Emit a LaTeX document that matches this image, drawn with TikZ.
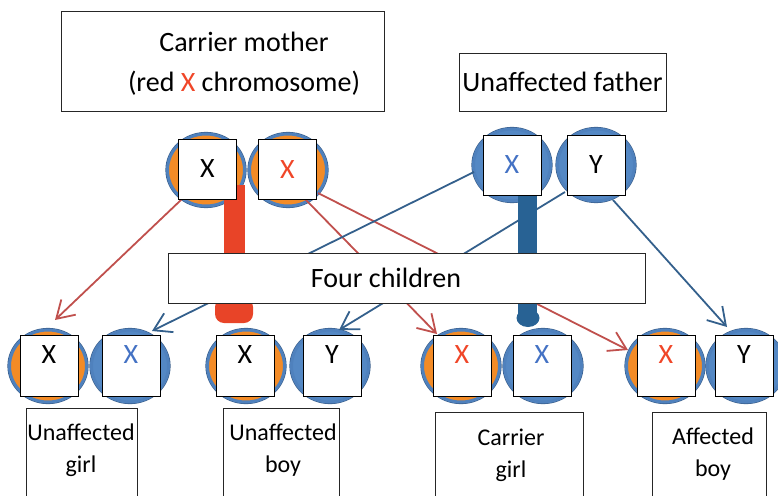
\documentclass[tikz,border=0pt]{standalone}
\usepackage{fontspec}
\setmainfont{Carlito}
\usetikzlibrary{arrows.meta,shapes.geometric}
\definecolor{corange}{RGB}{243,139,38}
\definecolor{ringblue}{RGB}{79,129,189}
\definecolor{rimblue}{RGB}{56,93,138}
\definecolor{fillblue}{RGB}{84,136,196}
\definecolor{lred}{RGB}{192,80,77}
\definecolor{lblue}{RGB}{52,96,140}
\definecolor{barred}{RGB}{232,68,40}
\definecolor{barblue}{RGB}{40,98,148}
\definecolor{xred}{RGB}{240,70,40}
\definecolor{xblue}{RGB}{68,114,196}
\begin{document}
\begin{tikzpicture}[x=1pt,y=-1pt,
  chromo/.style={ellipse, minimum width=77pt, minimum height=72pt, inner sep=0pt,
    draw=ringblue, line width=3pt, preaction={draw=rimblue, line width=4.2pt}},
  orangec/.style={chromo, fill=corange},
  bluec/.style={chromo, fill=fillblue},
  sqtop/.style={rectangle, draw=black, fill=white, line width=0.9pt,
    minimum width=58pt, minimum height=60pt, inner sep=0pt,
    font=\fontsize{28}{30}\selectfont},
  sqbot/.style={sqtop, minimum height=61pt, text height=18pt, text depth=24pt},
  redline/.style={draw=lred, line width=1.8pt, -{Straight Barb[length=17pt,width=21pt]}},
  blueline/.style={draw=lblue, line width=1.8pt, -{Straight Barb[length=17pt,width=21pt]}},
  tbox/.style={draw=black!85, line width=0.9pt, fill=white, inner sep=0pt},
  bigtxt/.style={font=\fontsize{28}{40}\selectfont, align=center, inner sep=0pt},
  labtxt/.style={font=\fontsize{24}{32}\selectfont, align=center, inner sep=0pt}]
\useasboundingbox (0,0) rectangle (778,495);
\clip (0,0) rectangle (778,495);

% parent circles
\node[orangec] (mA) at (206,170) {};
\node[orangec] (mB) at (288,170) {};
\node[bluec] (fA) at (512,165) {};
\node[bluec] (fB) at (596,165) {};

% children circles
\node[orangec] (c1a) at (48,366) {};
\node[bluec] (c1b) at (130,366) {};
\node[orangec] (c2a) at (246,366) {};
\node[bluec] (c2b) at (330,366) {};
\node[orangec] (c3a) at (461,366) {};
\node[bluec] (c3b) at (543,366) {};
\node[orangec] (c4a) at (665,366) {};
\node[bluec] (c4b) at (746,366) {};

% arrow ends
\coordinate (s1) at (182,199);
\coordinate (t1) at (55,320);
\coordinate (s2) at (305,199);
\coordinate (t2) at (437,334);
\coordinate (s3) at (318,193);
\coordinate (t3) at (628,350);
\coordinate (s4) at (474,172);
\coordinate (t4) at (152,331);
\coordinate (s5) at (565,192);
\coordinate (t5) at (339,330);
\coordinate (s6) at (613,200);
\coordinate (t6) at (727,327);

\draw[redline] (s1) -- (t1);
\draw[redline] (s2) -- (t2);
\draw[redline] (s3) -- (t3);
\draw[blueline] (s4) -- (t4);
\draw[blueline] (s5) -- (t5);
\draw[blueline] (s6) -- (t6);

% thick bars
\fill[barred] (224,185) rectangle (245,306);
\fill[barred, rounded corners=9pt] (215,298) rectangle (253,323);
\fill[barblue] (518,195) rectangle (537,318);
\fill[barblue] (528,318) ellipse (11.5pt and 9pt);

% four children box
\node[tbox, minimum width=477pt, minimum height=50pt] (cbox) at (406.5,278) {};
\node[bigtxt] (ctext) at (386,278) {Four children};

% squares
\node[sqtop] (qmA) at (207.5,169) {X};
\node[sqtop] (qmB) at (287.5,169.5) {\textcolor{xred}{X}};
\node[sqtop] (qfA) at (512,165) {\textcolor{xblue}{X}};
\node[sqtop] (qfB) at (596,165) {Y};

\node[sqbot] (q1a) at (49,366) {X};
\node[sqbot] (q1b) at (131,366) {\textcolor{xblue}{X}};
\node[sqbot] (q2a) at (245,366) {X};
\node[sqbot] (q2b) at (332,366) {Y};
\node[sqbot] (q3a) at (462,366) {\textcolor{xred}{X}};
\node[sqbot] (q3b) at (542,366) {\textcolor{xblue}{X}};
\node[sqbot] (q4a) at (666,366) {\textcolor{xred}{X}};
\node[sqbot] (q4b) at (744,366) {Y};

% parent boxes
\node[tbox, minimum width=323pt, minimum height=100pt] (mbox) at (222.5,61) {};
\node[bigtxt] (mtext) at (244,64) {Carrier mother\\(red \textcolor{xred}{X} chromosome)};
\node[tbox, minimum width=207pt, minimum height=58pt, font=\fontsize{28}{34}\selectfont] (fbox) at (562.5,82) {Unaffected father};

% label boxes
\node[tbox, anchor=north west, minimum width=111pt, minimum height=110pt] (lb1) at (26,408) {};
\node[tbox, anchor=north west, minimum width=116pt, minimum height=110pt] (lb2) at (223,408) {};
\node[tbox, anchor=north west, minimum width=148pt, minimum height=110pt] (lb3) at (435,412) {};
\node[tbox, anchor=north west, minimum width=114pt, minimum height=110pt] (lb4) at (652,412) {};
\node[labtxt] (l1) at (81,450) {Unaffected\\girl};
\node[labtxt] (l2) at (283,450) {Unaffected\\boy};
\node[labtxt] (l3) at (511,455) {Carrier\\girl};
\node[labtxt] (l4) at (713,454) {Affected\\boy};
\end{tikzpicture}
\end{document}
